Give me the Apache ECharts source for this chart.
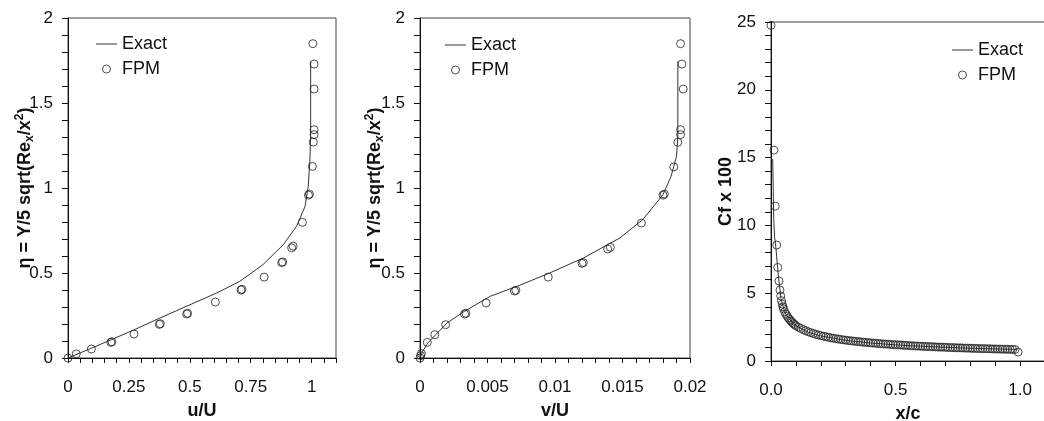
<!DOCTYPE html>
<html>
<head>
<meta charset="utf-8">
<script src="https://cdn.jsdelivr.net/npm/echarts@6/dist/echarts.min.js"></script>
<style>
html,body{margin:0;padding:0;background:#fff;}
#chart{width:1044px;height:421px;}
</style>
</head>
<body>
<div id="chart"></div>
<script>
// ---------- Panel 1: u/U ----------
const exactU   = [0, 0.05, 0.1, 0.178, 0.27, 0.377, 0.486, 0.61, 0.705, 0.80, 0.884, 0.938, 0.973, 0.986, 0.993, 0.996, 0.996];
const exactEtaU= [0, 0.03, 0.06, 0.108, 0.165, 0.235, 0.304, 0.382, 0.451, 0.549, 0.667, 0.775, 0.892, 1.01, 1.167, 1.32, 1.745];
const fpmU     = [0, 0.034, 0.096, 0.176, 0.180, 0.271, 0.375, 0.379, 0.487, 0.491, 0.605, 0.710, 0.714, 0.805, 0.877, 0.881, 0.918, 0.924, 0.962, 0.987, 0.991, 1.003, 1.007, 1.010, 1.010, 1.010, 1.010, 1.005];
const fpmEtaU  = [0, 0.024, 0.053, 0.092, 0.096, 0.141, 0.198, 0.202, 0.259, 0.263, 0.329, 0.400, 0.404, 0.476, 0.561, 0.565, 0.648, 0.658, 0.798, 0.958, 0.964, 1.127, 1.270, 1.314, 1.343, 1.582, 1.729, 1.849];

// ---------- Panel 2: v/U ----------
const exactV   = [0, 0.0002, 0.0006, 0.0012, 0.002, 0.0033, 0.0052, 0.0072, 0.0096, 0.0121, 0.0148, 0.0165, 0.018, 0.0186, 0.019, 0.0191, 0.0191];
const exactEtaV= [0, 0.04, 0.09, 0.14, 0.206, 0.275, 0.363, 0.422, 0.5, 0.588, 0.706, 0.814, 0.961, 1.069, 1.186, 1.3, 1.745];
const fpmV     = [0, 0.00005, 0.0001, 0.00054, 0.0011, 0.0019, 0.0033, 0.0034, 0.0049, 0.0070, 0.0071, 0.0095, 0.0120, 0.0121, 0.0139, 0.0141, 0.0164, 0.0180, 0.0181, 0.0188, 0.0191, 0.0193, 0.0193, 0.0195, 0.0194, 0.0193];
const fpmEtaV  = [0, 0.014, 0.026, 0.092, 0.137, 0.196, 0.259, 0.263, 0.324, 0.394, 0.398, 0.476, 0.557, 0.561, 0.641, 0.651, 0.794, 0.958, 0.964, 1.124, 1.269, 1.314, 1.343, 1.582, 1.729, 1.849];

// ---------- Panel 3: Cf x 100 ----------
const exactXc  = [0.007, 0.009, 0.011, 0.014, 0.02, 0.025, 0.03, 0.035, 0.04, 0.05, 0.06, 0.08, 0.1, 0.15, 0.2, 0.3, 0.4, 0.5, 0.6, 0.7, 0.8, 0.9, 0.99];
const exactCf  = [14.9, 12.5, 10.5, 9.2, 8.3, 7.2, 6.2, 5.4, 4.6, 3.9, 3.45, 2.95, 2.6, 2.12, 1.85, 1.52, 1.33, 1.19, 1.09, 1.01, 0.94, 0.89, 0.85];
const fpmXc = [0, 0.012, 0.017, 0.023, 0.027, 0.032, 0.036, 0.039, 0.042, 0.045, 0.048,
  0.05, 0.055, 0.06, 0.065, 0.07, 0.075, 0.08, 0.085, 0.09, 0.095, 0.10,
  0.11, 0.12, 0.13, 0.14, 0.15, 0.16, 0.17, 0.18, 0.19, 0.20,
  0.21, 0.22, 0.23, 0.24, 0.25, 0.26, 0.27, 0.28, 0.29, 0.30,
  0.31, 0.32, 0.33, 0.34, 0.35, 0.36, 0.37, 0.38, 0.39, 0.40,
  0.41, 0.42, 0.43, 0.44, 0.45, 0.46, 0.47, 0.48, 0.49, 0.50,
  0.51, 0.52, 0.53, 0.54, 0.55, 0.56, 0.57, 0.58, 0.59, 0.60,
  0.61, 0.62, 0.63, 0.64, 0.65, 0.66, 0.67, 0.68, 0.69, 0.70,
  0.71, 0.72, 0.73, 0.74, 0.75, 0.76, 0.77, 0.78, 0.79, 0.80,
  0.81, 0.82, 0.83, 0.84, 0.85, 0.86, 0.87, 0.88, 0.89, 0.90,
  0.91, 0.92, 0.93, 0.94, 0.95, 0.96, 0.97, 0.98, 0.992];
const fpmCf = [24.75, 15.55, 11.42, 8.55, 6.9, 5.9, 5.23, 4.8, 4.45, 4.2, 4.0,
  3.85, 3.62, 3.45, 3.3, 3.17, 3.05, 2.95, 2.85, 2.76, 2.68, 2.6,
  2.5, 2.4, 2.31, 2.23, 2.15, 2.09, 2.03, 1.97, 1.92, 1.87,
  1.83, 1.79, 1.75, 1.71, 1.68, 1.65, 1.62, 1.59, 1.56, 1.54,
  1.51, 1.49, 1.47, 1.45, 1.43, 1.41, 1.39, 1.37, 1.36, 1.34,
  1.32, 1.31, 1.29, 1.28, 1.26, 1.25, 1.24, 1.22, 1.21, 1.2,
  1.19, 1.18, 1.16, 1.15, 1.14, 1.13, 1.12, 1.11, 1.1, 1.09,
  1.08, 1.07, 1.06, 1.06, 1.05, 1.04, 1.03, 1.02, 1.02, 1.01,
  1.0, 0.99, 0.99, 0.98, 0.97, 0.97, 0.96, 0.95, 0.95, 0.94,
  0.93, 0.93, 0.92, 0.92, 0.91, 0.91, 0.9, 0.9, 0.89, 0.89,
  0.88, 0.88, 0.87, 0.87, 0.86, 0.86, 0.85, 0.85, 0.66];

// ---------- Tick labels ----------
const xTicks1 = [0, 0.25, 0.5, 0.75, 1];
const xTickText1 = ['0', '0.25', '0.5', '0.75', '1'];
const xTicks2 = [0, 0.005, 0.01, 0.015, 0.02];
const xTickText2 = ['0', '0.005', '0.01', '0.015', '0.02'];
const xTicks3 = [0, 0.5, 1.0];
const xTickText3 = ['0.0', '0.5', '1.0'];
const yTicksEta = [0, 0.5, 1, 1.5, 2];
const yTickTextEta = ['0', '0.5', '1', '1.5', '2'];
const yTicksCf = [0, 5, 10, 15, 20, 25];
const yTickTextCf = ['0', '5', '10', '15', '20', '25'];

const FONT = 'Liberation Sans, Arial, sans-serif';
const zip = (a, b) => a.map((v, i) => [v, b[i]]);
const labeler = (vals, texts) => (v) => {
  for (let i = 0; i < vals.length; i++) if (Math.abs(v - vals[i]) < 1e-9) return texts[i];
  return '';
};

function xAxis(idx, min, max, step, vals, texts, name) {
  return {
    type: 'value', gridIndex: idx, min: min, max: max, interval: step,
    name: name, nameLocation: 'middle', nameGap: 44, nameMoveOverlap: false,
    nameTextStyle: {fontFamily: FONT, fontSize: 18, fontWeight: 'bold', color: '#111'},
    axisLine: {show: true, onZero: false, lineStyle: {color: '#111', width: 1}},
    axisTick: {show: true, inside: false, length: 5, lineStyle: {color: '#111'}},
    axisLabel: {show: true, margin: 21, fontFamily: FONT, fontSize: 17, color: '#111',
      formatter: labeler(vals, texts), showMinLabel: true, showMaxLabel: true, hideOverlap: false},
    splitLine: {show: false}
  };
}
function yAxis(idx, min, max, step, vals, texts, name, gap, rich) {
  return {
    type: 'value', gridIndex: idx, min: min, max: max, interval: step,
    name: name, nameLocation: 'middle', nameGap: gap, nameRotate: 90, nameMoveOverlap: false,
    nameTextStyle: {fontFamily: FONT, fontSize: 18, fontWeight: 'bold', color: '#111', lineHeight: 22, rich: rich || {}},
    axisLine: {show: true, onZero: false, lineStyle: {color: '#111', width: 1}},
    axisTick: {show: true, inside: false, length: 6, lineStyle: {color: '#111'}},
    axisLabel: {show: true, margin: 15, fontFamily: FONT, fontSize: 17, color: '#111',
      formatter: labeler(vals, texts), showMinLabel: true, showMaxLabel: true, hideOverlap: false},
    splitLine: {show: false}
  };
}
const etaRich = {
  sub: {fontFamily: FONT, fontSize: 12, fontWeight: 'bold', color: '#111', lineHeight: 12, verticalAlign: 'bottom'},
  sup: {fontFamily: FONT, fontSize: 12, fontWeight: 'bold', color: '#111', lineHeight: 12, verticalAlign: 'top'}
};
const etaName = 'η = Y/5 sqrt(Re{sub|x}/x{sup|2})';

function legend(left, top) {
  return {
    left: left, top: top, orient: 'vertical', itemWidth: 21, itemHeight: 8, itemGap: 7,
    textStyle: {fontFamily: FONT, fontSize: 18, color: '#111'},
    selectedMode: false,
    data: [
      {name: 'Exact', icon: 'path://M0,0 L42,0 L42,2 L0,2 Z', itemStyle: {color: '#333'}},
      {name: 'FPM', icon: 'circle', itemStyle: {color: 'rgba(255,255,255,0)', borderColor: '#222', borderWidth: 1}}
    ]
  };
}
const lineSeries = (idx, x, y) => ({
  name: 'Exact', type: 'line', xAxisIndex: idx, yAxisIndex: idx, data: zip(x, y),
  symbol: 'none', smooth: false, lineStyle: {color: '#333', width: 1}, itemStyle: {color: '#333'}, z: 2
});
const fpmSeries = (idx, x, y) => ({
  name: 'FPM', type: 'scatter', xAxisIndex: idx, yAxisIndex: idx, data: zip(x, y),
  symbol: 'circle', symbolSize: 8,
  itemStyle: {color: 'rgba(255,255,255,0)', borderColor: '#222', borderWidth: 1}, z: 3
});
const gridBase = {show: true, borderColor: '#444', borderWidth: 1, backgroundColor: 'transparent',
  containLabel: false, outerBoundsMode: 'none'};

const chart = echarts.init(document.getElementById('chart'), null, {renderer: 'canvas'});
chart.setOption({
  animation: false,
  backgroundColor: '#fff',
  grid: [
    Object.assign({left: 68, top: 18, width: 268, height: 340}, gridBase),
    Object.assign({left: 420, top: 18, width: 270, height: 340}, gridBase),
    Object.assign({left: 771, top: 22, width: 274, height: 339}, gridBase)
  ],
  legend: [legend(91, 30), legend(440, 31), legend(947, 36)],
  xAxis: [
    xAxis(0, 0, 1.1, 0.05, xTicks1, xTickText1, 'u/U'),
    xAxis(1, 0, 0.02, 0.001, xTicks2, xTickText2, 'v/U'),
    xAxis(2, 0, 1.1, 0.1, xTicks3, xTickText3, 'x/c')
  ],
  yAxis: [
    yAxis(0, 0, 2, 0.1, yTicksEta, yTickTextEta, etaName, 32, etaRich),
    yAxis(1, 0, 2, 0.1, yTicksEta, yTickTextEta, etaName, 34, etaRich),
    yAxis(2, 0, 25, 1, yTicksCf, yTickTextCf, 'Cf x 100', 34)
  ],
  series: [
    lineSeries(0, exactU, exactEtaU), fpmSeries(0, fpmU, fpmEtaU),
    lineSeries(1, exactV, exactEtaV), fpmSeries(1, fpmV, fpmEtaV),
    lineSeries(2, exactXc, exactCf), fpmSeries(2, fpmXc, fpmCf)
  ]
});
</script>
</body>
</html>
